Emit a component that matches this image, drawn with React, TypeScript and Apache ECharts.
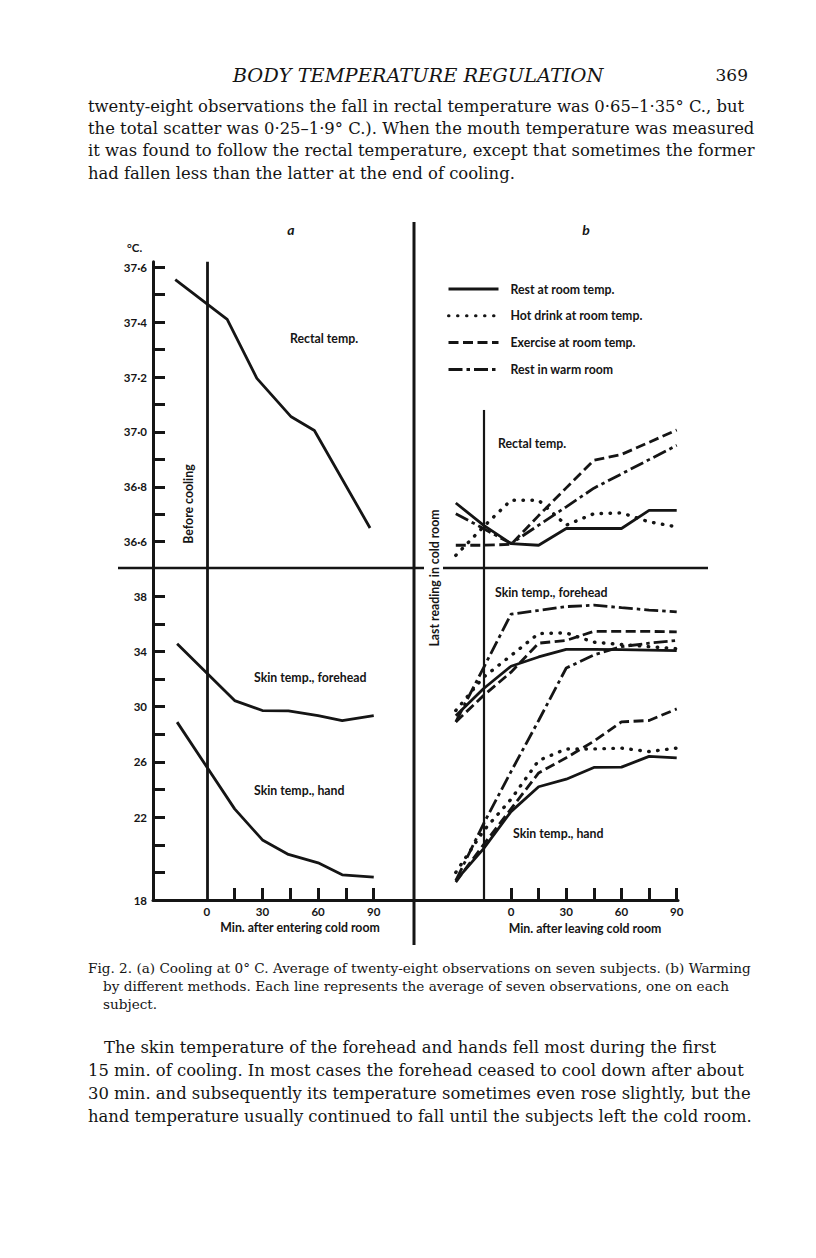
import React, { useEffect, useRef } from "react";
import * as echarts from "echarts";

// ---------- Panel a: cooling at 0 °C (minutes after entering cold room) ----------
const coolRectalMin = [-17, 11, 27, 45.5, 58, 88];
const coolRectal = [37.555, 37.41, 37.195, 37.055, 37.005, 36.65];
const coolSkinMin = [-16, 15, 30, 44, 60, 73, 90];
const coolForehead = [34.55, 30.44, 29.72, 29.7, 29.35, 28.99, 29.35];
const coolHand = [28.88, 22.6, 20.35, 19.3, 18.69, 17.82, 17.65];

// ---------- Panel b: warming (minutes after leaving cold room) ----------
const warmMin = [-30, -15, 0, 15, 30, 45, 60, 75, 90];
const methods = [
  "Rest at room temp.",
  "Hot drink at room temp.",
  "Exercise at room temp.",
  "Rest in warm room",
];
const rectalRest = [36.741, 36.66, 36.593, 36.587, 36.648, 36.648, 36.648, 36.714, 36.714];
const rectalDrink = [36.55, 36.654, 36.751, 36.751, 36.66, 36.702, 36.705, 36.672, 36.654];
const rectalExercise = [36.587, 36.587, 36.59, 36.695, 36.796, 36.897, 36.918, 36.962, 37.007];
const rectalWarm = [36.702, 36.648, 36.593, 36.66, 36.727, 36.795, 36.847, 36.899, 36.951];
const foreheadRest = [29.35, 31.3, 32.93, 33.6, 34.15, 34.15, 34.13, 34.1, 34.06];
const foreheadDrink = [29.72, 32.13, 33.7, 35.3, 35.34, 34.67, 34.5, 34.35, 34.2];
const foreheadExercise = [28.9, 30.8, 32.5, 34.6, 34.8, 35.45, 35.45, 35.45, 35.42];
const foreheadWarm = [28.9, 32.8, 36.7, 36.97, 37.25, 37.35, 37.17, 37.0, 36.86];
const handRest = [17.4, 19.7, 22.4, 24.2, 24.75, 25.6, 25.62, 26.4, 26.3];
const handDrink = [18.0, 21.0, 23.3, 26.1, 26.94, 26.94, 27.0, 26.75, 27.0];
const handExercise = [17.3, 20.0, 22.6, 25.2, 26.3, 27.5, 28.9, 29.0, 29.84];
const handWarm = [17.4, 21.5, 25.3, 29.0, 32.8, 33.75, 34.35, 34.6, 34.8];

// ---------- Ticks ----------
const rectalTicks = [36.6, 36.7, 36.8, 36.9, 37.0, 37.1, 37.2, 37.3, 37.4, 37.5, 37.6];
const rectalLabels = [36.6, 36.8, 37.0, 37.2, 37.4, 37.6];
const skinTicks = [18, 20, 22, 24, 26, 28, 30, 32, 34, 36, 38];
const skinLabelValues = [16, 22, 26, 30, 34, 38];
const skinLabelTexts = ["18", "22", "26", "30", "34", "38"];
const coolMinTicks = [15, 30, 45, 60, 75, 90];
const warmMinTicks = [0, 15, 30, 45, 60, 75, 90];
const minLabels = [0, 30, 60, 90];

// ---------- Page text ----------
const headerTitle = "BODY TEMPERATURE REGULATION";
const pageNumber = "369";
const topLines = [
  "twenty-eight observations the fall in rectal temperature was 0·65–1·35° C., but",
  "the total scatter was 0·25–1·9° C.). When the mouth temperature was measured",
  "it was found to follow the rectal temperature, except that sometimes the former",
  "had fallen less than the latter at the end of cooling.",
];
const captionLines = [
  "Fig. 2. (a) Cooling at 0° C. Average of twenty-eight observations on seven subjects. (b) Warming",
  "by different methods. Each line represents the average of seven observations, one on each",
  "subject.",
];
const bottomLines = [
  "The skin temperature of the forehead and hands fell most during the first",
  "15 min. of cooling. In most cases the forehead ceased to cool down after about",
  "30 min. and subsequently its temperature sometimes even rose slightly, but the",
  "hand temperature usually continued to fall until the subjects left the cold room.",
];

const INK = "#151515";
const SANS = "Lato, 'DejaVu Sans', sans-serif";
const SERIF = "'DejaVu Serif', 'Liberation Serif', serif";

const styles: Record<string, any> = {
  solid: { type: "solid", width: 2.8 },
  dotted: { type: [0.5, 8.5], width: 3.4, cap: "round" },
  dashed: { type: [10, 4.5], width: 2.8 },
  dashdot: { type: [14, 4, 3.5, 4], width: 2.8 },
};
const methodStyle = ["solid", "dotted", "dashed", "dashdot"];

const pairs = (xs: number[], ys: number[]) => xs.map((x, i) => [x, ys[i]]);

export default function App() {
  const ref = useRef<HTMLDivElement>(null);
  useEffect(() => {
    if (!ref.current) return;
    const chart = echarts.init(ref.current, undefined, { renderer: "svg" });

    const tickLabelStyle = {
      fontFamily: SANS,
      fontSize: 11.5,
      fontWeight: "bold",
      color: INK,
    };
    const lineSeries = (name: string, data: number[][], grid: number, style: string, extra: any = {}) => ({
      type: "line",
      name,
      data,
      xAxisIndex: grid,
      yAxisIndex: grid,
      symbol: "none",
      showSymbol: false,
      smooth: false,
      silent: true,
      color: INK,
      itemStyle: { color: INK },
      lineStyle: { color: INK, ...styles[style] },
      ...extra,
    });
    const vLine = (x: number, y1: number, y2: number, w: number) => ({
      silent: true,
      symbol: ["none", "none"],
      label: { show: false },
      lineStyle: { color: INK, width: w, type: "solid" },
      data: [[{ coord: [x, y1] }, { coord: [x, y2] }]],
    });

    const rectalSets = [rectalRest, rectalDrink, rectalExercise, rectalWarm];
    const foreheadSets = [foreheadRest, foreheadDrink, foreheadExercise, foreheadWarm];
    const handSets = [handRest, handDrink, handExercise, handWarm];

    const series: any[] = [
      lineSeries("Cooling rectal", pairs(coolRectalMin, coolRectal), 0, "solid", {
        markLine: vLine(0, 36.5, 37.62, 2.8),
      }),
      lineSeries("Cooling forehead", pairs(coolSkinMin, coolForehead), 1, "solid", {
        markLine: vLine(0, 16, 40, 2.8),
      }),
      lineSeries("Cooling hand", pairs(coolSkinMin, coolHand), 1, "solid"),
    ];
    methods.forEach((m, i) => {
      series.push(
        lineSeries(m, pairs(warmMin, rectalSets[i]), 2, methodStyle[i],
          i === 0 ? { markLine: vLine(-15, 36.5, 37.08, 2.2) } : {})
      );
      series.push(lineSeries(m, pairs(warmMin, foreheadSets[i]), 3, methodStyle[i],
        i === 0 ? { markLine: vLine(-15, 16, 40, 2.2) } : {}));
      series.push(lineSeries(m, pairs(warmMin, handSets[i]), 3, methodStyle[i]));
    });

    const figText = (text: string, x: number, y: number, extra: any = {}) => ({
      type: "text",
      x,
      y,
      silent: true,
      style: {
        text,
        fill: INK,
        fontFamily: SANS,
        fontSize: 12.3,
        fontWeight: "bold",
        textAlign: "left",
        textVerticalAlign: "middle",
        ...extra,
      },
    });
    const serifText = (text: string, x: number, y: number, size: number, extra: any = {}) => ({
      type: "text",
      x,
      y,
      silent: true,
      style: {
        text,
        fill: "#141414",
        fontFamily: SERIF,
        fontSize: size,
        textAlign: "left",
        textVerticalAlign: "middle",
        ...extra,
      },
    });

    const graphic: any[] = [
      // frame lines of the figure
      { type: "line", silent: true, shape: { x1: 414, y1: 222, x2: 414, y2: 945 }, style: { stroke: INK, lineWidth: 3 } },
      { type: "line", silent: true, shape: { x1: 118, y1: 568, x2: 424, y2: 568 }, style: { stroke: INK, lineWidth: 2.5 } },
      { type: "line", silent: true, shape: { x1: 443, y1: 568, x2: 708, y2: 568 }, style: { stroke: INK, lineWidth: 2.5 } },
      // figure labels
      figText("a", 291, 229, { fontStyle: "italic", fontSize: 14, textAlign: "center" }),
      figText("b", 586, 229, { fontStyle: "italic", fontSize: 14, textAlign: "center" }),
      figText("°C.", 127, 247, { fontSize: 11.5 }),
      figText("Rectal temp.", 290, 338),
      figText("Skin temp., forehead", 254, 677),
      figText("Skin temp., hand", 254, 790),
      figText("Before cooling", 188, 504, { textAlign: "center" }),
      figText("Min. after entering cold room", 300, 927, { textAlign: "center" }),
      figText("Rectal temp.", 498, 443),
      figText("Skin temp., forehead", 495, 592),
      figText("Skin temp., hand", 513, 833),
      figText("Last reading in cold room", 434, 578, { textAlign: "center" }),
      figText("Min. after leaving cold room", 585, 928, { textAlign: "center" }),
      // page text
      serifText(headerTitle, 418, 75, 19.4, { fontStyle: "italic", textAlign: "center" }),
      serifText(pageNumber, 748, 75, 17, { textAlign: "right" }),
      ...topLines.map((t, i) => serifText(t, 88, 106 + i * 22.4, 16.4)),
      serifText(captionLines[0], 88, 968, 13.6),
      serifText(captionLines[1], 103, 986, 13.6),
      serifText(captionLines[2], 103, 1004, 13.6),
      ...bottomLines.map((t, i) => serifText(t, i === 0 ? 104 : 88, 1047 + i * 23, 16.4)),
    ];
    // rotate the two vertical labels
    graphic.forEach((g) => {
      if (g.style && (g.style.text === "Before cooling" || g.style.text === "Last reading in cold room")) {
        g.rotation = Math.PI / 2;
      }
    });

    const hiddenAxis = (grid: number, min: number, max: number) => ({
      type: "value",
      gridIndex: grid,
      min,
      max,
      show: false,
    });

    const option: any = {
      animation: false,
      backgroundColor: "#ffffff",
      grid: [
        { left: 153, top: 261.8, width: 261, height: 307.3 },
        { left: 153, top: 568.6, width: 261, height: 331.4 },
        { left: 414, top: 261.8, width: 264, height: 307.3 },
        { left: 414, top: 568.6, width: 264, height: 331.4 },
      ],
      xAxis: [
        hiddenAxis(0, -29, 111.7),
        {
          type: "value",
          gridIndex: 1,
          min: -29,
          max: 111.7,
          axisLine: { show: true, onZero: false, lineStyle: { color: INK, width: 3 } },
          axisTick: { show: true, inside: true, length: 12, customValues: coolMinTicks, lineStyle: { color: INK, width: 3 } },
          axisLabel: { show: true, customValues: minLabels, margin: 5, ...tickLabelStyle },
          splitLine: { show: false },
        },
        hiddenAxis(2, -52.7, 90.7),
        {
          type: "value",
          gridIndex: 3,
          min: -52.7,
          max: 90.7,
          axisLine: { show: true, onZero: false, lineStyle: { color: INK, width: 3 } },
          axisTick: { show: true, inside: true, length: 12, customValues: warmMinTicks, lineStyle: { color: INK, width: 3 } },
          axisLabel: { show: true, customValues: minLabels, margin: 5, ...tickLabelStyle },
          splitLine: { show: false },
        },
      ],
      yAxis: [
        {
          type: "value",
          gridIndex: 0,
          min: 36.5,
          max: 37.62,
          axisLine: { show: true, onZero: false, lineStyle: { color: INK, width: 3 } },
          axisTick: { show: true, inside: true, length: 12, customValues: rectalTicks, lineStyle: { color: INK, width: 3 } },
          axisLabel: {
            show: true,
            customValues: rectalLabels,
            margin: 6,
            formatter: (v: number) => (Math.round(v * 10) / 10).toFixed(1).replace(".", "·"),
            ...tickLabelStyle,
          },
          splitLine: { show: false },
        },
        {
          type: "value",
          gridIndex: 1,
          min: 16,
          max: 40,
          axisLine: { show: true, onZero: false, lineStyle: { color: INK, width: 3 } },
          axisTick: { show: true, inside: true, length: 12, customValues: skinTicks, lineStyle: { color: INK, width: 3 } },
          axisLabel: {
            show: true,
            customValues: skinLabelValues,
            margin: 6,
            formatter: (v: number) => skinLabelTexts[skinLabelValues.indexOf(Math.round(v))] ?? String(v),
            ...tickLabelStyle,
          },
          splitLine: { show: false },
        },
        hiddenAxis(2, 36.5, 37.62),
        hiddenAxis(3, 16, 40),
      ],
      legend: {
        data: methods,
        orient: "vertical",
        left: 447,
        top: 283,
        padding: 0,
        itemWidth: 50,
        itemHeight: 14,
        itemGap: 14.8,
        selectedMode: false,
        itemStyle: { color: "rgba(0,0,0,0)", borderWidth: 0, opacity: 0 },
        lineStyle: { width: 3 },
        textStyle: { fontFamily: SANS, fontSize: 12.3, fontWeight: "bold", color: INK, padding: [0, 0, 0, 7] },
      },
      graphic,
      series,
    };
    chart.setOption(option);
    return () => chart.dispose();
  }, []);

  return (
    <div
      ref={ref}
      style={{ position: "absolute", left: 0, top: 0, width: 816, height: 1258, background: "#fff" }}
    />
  );
}
